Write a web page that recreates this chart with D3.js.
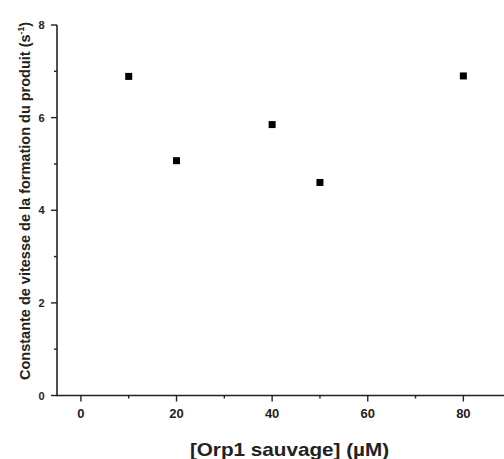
<!DOCTYPE html>
<html><head><meta charset="utf-8">
<script src="https://cdn.jsdelivr.net/npm/d3@7"></script>
<style>body{margin:0;background:#fff}svg{display:block;font-family:"Liberation Sans",Arial,sans-serif}</style>
</head><body>
<svg id="c" width="504" height="459"></svg>
<script>
const concentrations = [10, 20, 40, 50, 80];
const rateConstants = [6.89, 5.07, 5.85, 4.60, 6.90];
const xTicks = [0, 20, 40, 60, 80];
const yTicks = [0, 2, 4, 6, 8];

const svg = d3.select("#c");
const x = d3.scaleLinear().domain([-5, 88.5]).range([57, 504]);
const y = d3.scaleLinear().domain([0, 8]).range([395.5, 25]);

// x axis
const xa = svg.append("g").attr("transform", "translate(0,395.5)");
xa.append("line").attr("x1", 57).attr("x2", 504).attr("stroke", "#222").attr("stroke-width", 1.6);
xa.selectAll(".mj").data(xTicks).enter().append("line")
  .attr("x1", d => x(d)).attr("x2", d => x(d)).attr("y1", 0).attr("y2", 6)
  .attr("stroke", "#222").attr("stroke-width", 1.4);
xa.selectAll(".mn").data([10, 30, 50, 70]).enter().append("line")
  .attr("x1", d => x(d)).attr("x2", d => x(d)).attr("y1", 0).attr("y2", 3)
  .attr("stroke", "#222").attr("stroke-width", 1.4);
xa.selectAll("text").data(xTicks).enter().append("text")
  .attr("x", d => x(d)).attr("y", 22.5).attr("text-anchor", "middle")
  .attr("font-size", 13).attr("font-weight", "bold").attr("fill", "#222").text(d => d);

// y axis
const ya = svg.append("g").attr("transform", "translate(57,0)");
ya.append("line").attr("y1", y(8)).attr("y2", y(0) + 0.8).attr("stroke", "#222").attr("stroke-width", 1.6);
ya.selectAll(".mj").data(yTicks).enter().append("line")
  .attr("x1", -6).attr("x2", 0).attr("y1", d => y(d)).attr("y2", d => y(d))
  .attr("stroke", "#222").attr("stroke-width", 1.4);
ya.selectAll(".mn").data([1, 3, 5, 7]).enter().append("line")
  .attr("x1", -3).attr("x2", 0).attr("y1", d => y(d)).attr("y2", d => y(d))
  .attr("stroke", "#222").attr("stroke-width", 1.4);
ya.selectAll("text").data(yTicks).enter().append("text")
  .attr("x", -12.5).attr("y", d => y(d) + 4).attr("text-anchor", "end")
  .attr("font-size", 11).attr("font-weight", "bold").attr("fill", "#222").text(d => d);

// points
svg.selectAll("rect.pt").data(concentrations).enter().append("rect")
  .attr("class", "pt")
  .attr("x", (d) => x(d) - 3.5).attr("y", (d, i) => y(rateConstants[i]) - 3.5)
  .attr("width", 7).attr("height", 7).attr("fill", "#000");

// titles
svg.append("text").attr("transform", "translate(289.5,456) scale(1.15,1)")
  .attr("text-anchor", "middle")
  .attr("font-size", 18).attr("font-weight", "bold").attr("fill", "#222")
  .text("[Orp1 sauvage] (µM)");

const yt = svg.append("text").attr("transform", "translate(30,201) rotate(-90)")
  .attr("text-anchor", "middle").attr("font-size", 14.5).attr("font-weight", "bold").attr("fill", "#222");
yt.append("tspan").text("Constante de vitesse de la formation du produit (s");
yt.append("tspan").attr("font-size", 8.5).attr("dy", -6).text("-1");
yt.append("tspan").attr("dy", 6).text(")");
</script>
</body></html>
